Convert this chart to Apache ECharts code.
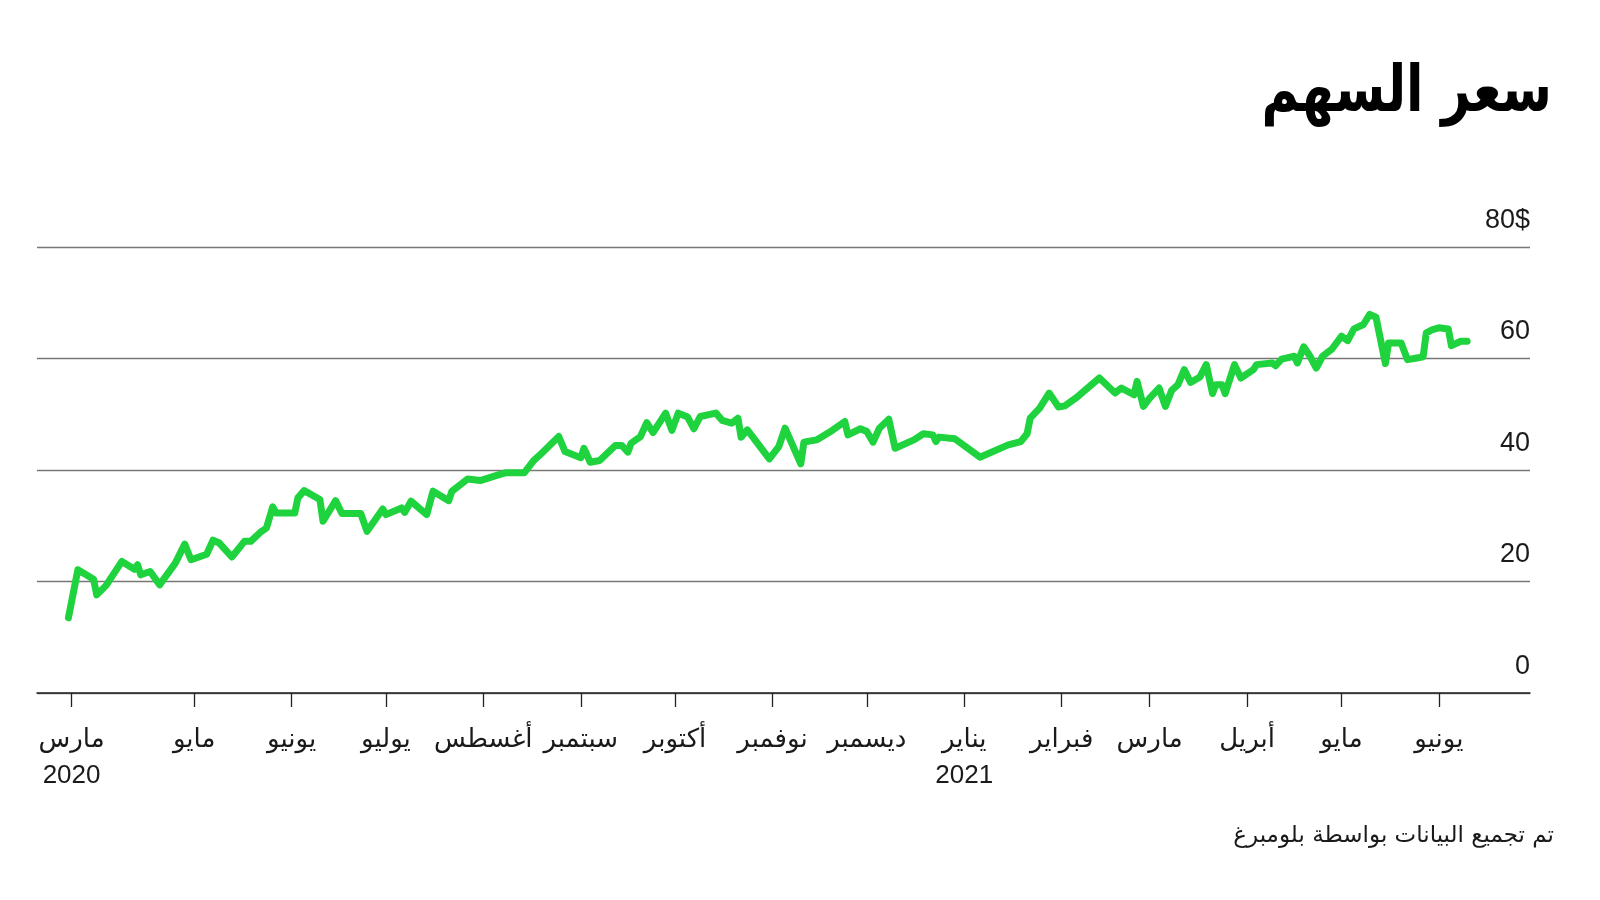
<!DOCTYPE html>
<html>
<head>
<meta charset="utf-8">
<script src="https://cdn.jsdelivr.net/npm/echarts@6/dist/echarts.min.js"></script>
<style>
  html, body { margin: 0; padding: 0; background: #fff; }
  #chart { width: 1600px; height: 900px; }
</style>
</head>
<body>
<div id="chart"></div>
<script>
// closing prices
var priceDates = [
  '2020-03-22','2020-03-25','2020-03-30','2020-03-31','2020-04-03','2020-04-08','2020-04-12','2020-04-13',
  '2020-04-14','2020-04-17','2020-04-20','2020-04-25','2020-04-28','2020-04-30','2020-05-05','2020-05-07',
  '2020-05-09','2020-05-13','2020-05-17','2020-05-19','2020-05-22','2020-05-24','2020-05-26','2020-05-27',
  '2020-06-02','2020-06-03','2020-06-05','2020-06-10','2020-06-11','2020-06-15','2020-06-17','2020-06-23',
  '2020-06-25','2020-06-30','2020-07-01','2020-07-06','2020-07-07','2020-07-09','2020-07-14','2020-07-16',
  '2020-07-21','2020-07-22','2020-07-27','2020-07-31','2020-08-05','2020-08-08','2020-08-14','2020-08-17',
  '2020-08-19','2020-08-25','2020-08-27','2020-09-01','2020-09-02','2020-09-04','2020-09-07','2020-09-12',
  '2020-09-14','2020-09-16','2020-09-17','2020-09-20','2020-09-22','2020-09-24','2020-09-28','2020-09-30',
  '2020-10-02','2020-10-05','2020-10-07','2020-10-09','2020-10-14','2020-10-16','2020-10-19','2020-10-21',
  '2020-10-22','2020-10-24','2020-10-31','2020-11-03','2020-11-05','2020-11-10','2020-11-11','2020-11-15',
  '2020-11-20','2020-11-24','2020-11-25','2020-11-29','2020-12-01','2020-12-03','2020-12-05','2020-12-08',
  '2020-12-10','2020-12-16','2020-12-19','2020-12-22','2020-12-23','2020-12-24','2020-12-29','2021-01-06',
  '2021-01-15','2021-01-19','2021-01-21','2021-01-22','2021-01-25','2021-01-28','2021-01-31','2021-02-02',
  '2021-02-06','2021-02-08','2021-02-13','2021-02-18','2021-02-20','2021-02-24','2021-02-25','2021-02-27',
  '2021-03-01','2021-03-04','2021-03-06','2021-03-08','2021-03-10','2021-03-12','2021-03-14','2021-03-17',
  '2021-03-19','2021-03-21','2021-03-22','2021-03-24','2021-03-25','2021-03-28','2021-03-30','2021-04-03',
  '2021-04-04','2021-04-09','2021-04-10','2021-04-12','2021-04-16','2021-04-17','2021-04-19','2021-04-21',
  '2021-04-23','2021-04-25','2021-04-28','2021-05-01','2021-05-03','2021-05-05','2021-05-08','2021-05-10',
  '2021-05-12','2021-05-15','2021-05-16','2021-05-20','2021-05-22','2021-05-25','2021-05-27','2021-05-28',
  '2021-05-30','2021-06-01','2021-06-04','2021-06-05','2021-06-08','2021-06-10'
];
var priceValues = [
  13.5, 22.1, 20.4, 17.6, 19.3, 23.6, 22.2, 23.0,
  21.2, 21.8, 19.4, 23.3, 26.7, 23.9, 24.9, 27.4,
  26.9, 24.4, 27.2, 27.2, 28.8, 29.6, 33.4, 32.3,
  32.3, 35.0, 36.3, 34.7, 30.8, 34.5, 32.2, 32.2,
  29.0, 33.0, 32.0, 33.2, 32.4, 34.4, 32.0, 36.2,
  34.5, 36.2, 38.4, 38.1, 39.0, 39.5, 39.5, 41.7,
  42.7, 46.0, 43.3, 42.2, 43.9, 41.4, 41.7, 44.4,
  44.4, 43.2, 44.8, 46.0, 48.5, 46.7, 50.2, 47.1,
  50.2, 49.5, 47.4, 49.6, 50.2, 48.9, 48.4, 49.3,
  45.9, 47.2, 42.0, 44.2, 47.5, 41.1, 45.0, 45.4,
  47.1, 48.7, 46.3, 47.4, 46.9, 45.0, 47.5, 49.1,
  43.9, 45.4, 46.5, 46.3, 45.1, 45.9, 45.6, 42.3,
  44.5, 45.1, 46.5, 49.3, 51.1, 53.8, 51.3, 51.5,
  53.1, 54.1, 56.5, 53.8, 54.7, 53.5, 55.9, 51.4,
  52.9, 54.7, 51.4, 54.3, 55.3, 58.0, 55.7, 56.7,
  58.9, 53.7, 55.3, 55.3, 53.7, 58.9, 56.5, 58.0,
  58.9, 59.2, 58.7, 59.9, 60.4, 59.2, 62.1, 60.4,
  58.3, 60.4, 61.7, 64.0, 63.2, 65.3, 66.1, 67.9,
  67.4, 59.1, 62.8, 62.8, 59.8, 60.1, 60.3, 64.6,
  65.2, 65.5, 65.3, 62.3, 63.1, 63.1
];

// x axis: one category per day
var axisStart = '2020-03-12';
var axisEnd = '2021-06-30';
var tickDates = [
  '2020-03-23','2020-05-01','2020-06-01','2020-07-01','2020-08-01','2020-09-01','2020-10-01','2020-11-01',
  '2020-12-01','2021-01-01','2021-02-01','2021-03-01','2021-04-01','2021-05-01','2021-06-01'
];
var tickLabels = [
  'مارس\n2020','مايو','يونيو','يوليو','أغسطس','سبتمبر','أكتوبر','نوفمبر',
  'ديسمبر','يناير\n2021','فبراير','مارس','أبريل','مايو','يونيو'
];
var yTicks = [0, 20, 40, 60, 80];

var days = [];
var d = new Date(axisStart + 'T00:00:00Z');
var end = new Date(axisEnd + 'T00:00:00Z');
while (d <= end) {
  days.push(d.toISOString().slice(0, 10));
  d.setUTCDate(d.getUTCDate() + 1);
}

var seriesData = priceDates.map(function (dt, i) { return [dt, priceValues[i]]; });

function isTick(index, value) {
  return tickDates.indexOf(value) !== -1;
}

var myChart = echarts.init(document.getElementById('chart'));

var option = {
  animation: false,
  backgroundColor: '#fff',
  graphic: [
    {
      type: 'text',
      x: 1552,
      y: 62,
      scaleX: 0.85,
      scaleY: 1.07,
      style: {
        text: 'سعر السهم',
        font: 'bold 60px "DejaVu Sans"',
        fill: '#000',
        textAlign: 'right',
        textVerticalAlign: 'top'
      }
    },
    {
      type: 'text',
      x: 1554,
      y: 825,
      style: {
        text: 'تم تجميع البيانات بواسطة بلومبرغ',
        font: '23px "DejaVu Sans"',
        fill: '#1a1a1a',
        textAlign: 'right',
        textVerticalAlign: 'top'
      }
    }
  ],
  grid: {
    left: 37,
    right: 70,
    top: 247,
    bottom: 207
  },
  xAxis: {
    type: 'category',
    data: days,
    boundaryGap: false,
    axisLine: {
      lineStyle: { color: '#222', width: 1.5 }
    },
    axisTick: {
      interval: isTick,
      length: 14,
      lineStyle: { color: '#222', width: 1.3 }
    },
    axisLabel: {
      interval: isTick,
      margin: 29,
      color: '#1a1a1a',
      fontSize: 26,
      lineHeight: 36,
      fontFamily: "'Liberation Sans', 'DejaVu Sans'",
      formatter: function (value) {
        var i = tickDates.indexOf(value);
        return i === -1 ? '' : tickLabels[i];
      }
    },
    splitLine: { show: false }
  },
  yAxis: {
    type: 'value',
    position: 'right',
    min: yTicks[0],
    max: yTicks[yTicks.length - 1],
    interval: 20,
    axisLine: { show: false },
    axisTick: { show: false },
    axisLabel: {
      inside: true,
      margin: 0,
      align: 'right',
      verticalAlign: 'bottom',
      padding: [0, 0, 13, 0],
      color: '#1a1a1a',
      fontSize: 27,
      fontFamily: "'Liberation Sans', 'DejaVu Sans'",
      formatter: function (value) {
        return value === 80 ? '80$' : String(value);
      }
    },
    splitLine: {
      lineStyle: { color: '#777', width: 1.3 }
    }
  },
  series: [
    {
      name: 'السهم',
      type: 'line',
      data: seriesData,
      showSymbol: false,
      symbol: 'none',
      connectNulls: true,
      lineStyle: {
        color: '#1ed33d',
        width: 7,
        cap: 'round',
        join: 'round'
      },
      z: 5
    }
  ]
};

myChart.setOption(option);
</script>
</body>
</html>
